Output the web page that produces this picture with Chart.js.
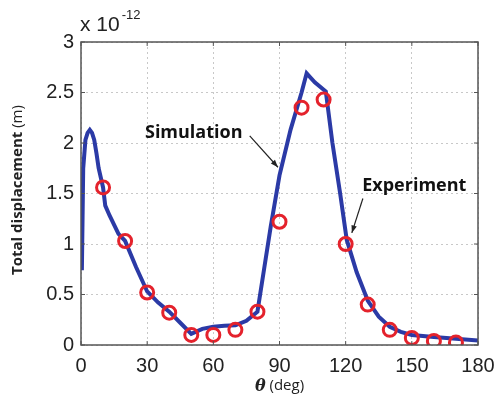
<!DOCTYPE html>
<html>
<head>
<meta charset="utf-8">
<script src="https://cdn.jsdelivr.net/npm/chart.js@4.4.1/dist/chart.umd.min.js"></script>
<style>
  html, body { margin: 0; padding: 0; background: #fff; }
  #wrap { width: 497px; height: 412px; }
</style>
</head>
<body>
<div id="wrap"><canvas id="disp" width="497" height="412"></canvas></div>
<script>
// theta (deg) and total displacement (x 1e-12 m)
const simTheta = [0.4, 1, 2, 3, 4, 5, 6, 7, 8, 10, 11, 13, 17, 20, 25, 30, 35, 40, 45, 50, 55, 60, 65, 70, 75, 80, 83, 86, 90, 95, 100, 102.3, 106, 111, 114, 117.5, 120.5, 125, 130, 135, 140, 145, 150, 160, 170, 180];
const simDisp = [0.74, 1.75, 2.03, 2.1, 2.13, 2.1, 2.03, 1.9, 1.75, 1.56, 1.38, 1.28, 1.1, 1.03, 0.77, 0.53, 0.42, 0.33, 0.22, 0.11, 0.16, 0.18, 0.19, 0.195, 0.24, 0.33, 0.75, 1.17, 1.68, 2.13, 2.5, 2.69, 2.6, 2.51, 2.0, 1.5, 1.04, 0.72, 0.44, 0.28, 0.18, 0.13, 0.1, 0.08, 0.063, 0.045];

const expTheta = [10, 20, 30, 40, 50, 60, 70, 80, 90, 100, 110, 120, 130, 140, 150, 160, 170];
const expDisp = [1.56, 1.03, 0.52, 0.32, 0.1, 0.1, 0.15, 0.33, 1.22, 2.35, 2.43, 1.0, 0.4, 0.15, 0.07, 0.04, 0.025];

const xTicks = [0, 30, 60, 90, 120, 150, 180];
const yTicks = [0, 0.5, 1, 1.5, 2, 2.5, 3];

const FONT = '"Liberation Sans", Arial, sans-serif';
const BOLD = '"Open Sans", "Liberation Sans", sans-serif';

const toPoints = (xs, ys) => xs.map((x, i) => ({ x, y: ys[i] }));

// MATLAB-like box with inward ticks, plus labels and arrows
const decorations = {
  id: 'decorations',
  afterDatasetsDraw(chart) {
    const { ctx, chartArea: a, scales: { x, y } } = chart;
    ctx.save();

    // frame + inner ticks
    ctx.strokeStyle = '#555';
    ctx.lineWidth = 1.5;
    ctx.strokeRect(a.left, a.top, a.right - a.left, a.bottom - a.top);
    ctx.lineWidth = 1;
    xTicks.forEach(v => {
      const px = x.getPixelForValue(v);
      ctx.beginPath();
      ctx.moveTo(px, a.bottom); ctx.lineTo(px, a.bottom - 4);
      ctx.moveTo(px, a.top); ctx.lineTo(px, a.top + 4);
      ctx.stroke();
    });
    yTicks.forEach(v => {
      const py = y.getPixelForValue(v);
      ctx.beginPath();
      ctx.moveTo(a.left, py); ctx.lineTo(a.left + 4, py);
      ctx.moveTo(a.right, py); ctx.lineTo(a.right - 4, py);
      ctx.stroke();
    });

    // annotations
    const arrow = (x0, y0, x1, y1) => {
      const sx = x.getPixelForValue(x0), sy = y.getPixelForValue(y0);
      const ex = x.getPixelForValue(x1), ey = y.getPixelForValue(y1);
      ctx.strokeStyle = '#222';
      ctx.fillStyle = '#222';
      ctx.lineWidth = 1.2;
      ctx.beginPath(); ctx.moveTo(sx, sy); ctx.lineTo(ex, ey); ctx.stroke();
      const ang = Math.atan2(ey - sy, ex - sx);
      ctx.beginPath();
      ctx.moveTo(ex, ey);
      ctx.lineTo(ex - 8 * Math.cos(ang - 0.35), ey - 8 * Math.sin(ang - 0.35));
      ctx.lineTo(ex - 8 * Math.cos(ang + 0.35), ey - 8 * Math.sin(ang + 0.35));
      ctx.closePath(); ctx.fill();
    };
    ctx.fillStyle = '#111';
    ctx.font = 'bold 18px ' + BOLD;
    ctx.textBaseline = 'middle';
    ctx.textAlign = 'left';
    ctx.fillText('Simulation', x.getPixelForValue(29), y.getPixelForValue(2.1));
    ctx.fillText('Experiment', x.getPixelForValue(127.5), y.getPixelForValue(1.58));
    arrow(76.5, 2.07, 89.3, 1.76);
    arrow(127.8, 1.45, 122.8, 1.11);

    // exponent label
    ctx.fillStyle = '#222';
    ctx.font = '21px ' + FONT;
    ctx.textBaseline = 'alphabetic';
    const ex = 'x 10';
    const exW = ctx.measureText(ex).width;
    ctx.fillText(ex, a.left - 1, 31);
    ctx.font = '13px ' + FONT;
    ctx.fillText('-12', a.left + exW + 1, 19);

    // y title
    ctx.save();
    ctx.translate(18, 190);
    ctx.rotate(-Math.PI / 2);
    ctx.textBaseline = 'middle';
    ctx.font = 'bold 15px ' + BOLD;
    const t1 = 'Total displacement ';
    const w1 = ctx.measureText(t1).width;
    ctx.font = '15px ' + BOLD;
    const t2 = '(m)';
    const w2 = ctx.measureText(t2).width;
    let sx = -(w1 + w2) / 2;
    ctx.font = 'bold 15px ' + BOLD;
    ctx.fillText(t1, sx, 0);
    ctx.font = '15px ' + BOLD;
    ctx.fillText(t2, sx + w1, 0);
    ctx.restore();

    // x title
    ctx.textBaseline = 'middle';
    ctx.font = 'italic bold 16px "DejaVu Serif", serif';
    const th = '\u03B8';
    const wt = ctx.measureText(th).width;
    ctx.font = '15px ' + BOLD;
    const dg = ' (deg)';
    const wd = ctx.measureText(dg).width;
    const cx = (a.left + a.right) / 2 - (wt + wd) / 2;
    ctx.font = 'italic bold 16px "DejaVu Serif", serif';
    ctx.fillText(th, cx, 387);
    ctx.font = '15px ' + BOLD;
    ctx.fillText(dg, cx + wt, 386);

    ctx.restore();
  }
};

new Chart(document.getElementById('disp'), {
  type: 'scatter',
  data: {
    datasets: [
      {
        label: 'Simulation',
        data: toPoints(simTheta, simDisp),
        showLine: true,
        borderColor: '#2b3aa6',
        borderWidth: 4,
        pointRadius: 0,
        tension: 0,
        order: 2
      },
      {
        label: 'Experiment',
        data: toPoints(expTheta, expDisp),
        showLine: false,
        pointRadius: 6.5,
        pointBorderWidth: 3,
        pointBorderColor: '#e4222c',
        pointBackgroundColor: 'rgba(255,255,255,0)',
        order: 1
      }
    ]
  },
  options: {
    responsive: false,
    animation: false,
    layout: { padding: { left: 0, right: 19, top: 42, bottom: 0 } },
    plugins: { legend: { display: false }, tooltip: { enabled: false } },
    scales: {
      x: {
        type: 'linear',
        min: 0, max: 180,
        afterBuildTicks: s => { s.ticks = xTicks.map(v => ({ value: v })); },
        afterFit: s => { s.height = 67; s.paddingLeft = 0; s.paddingRight = 0; },
        border: { display: false, dash: [2, 3] },
        grid: { color: '#c8c8c8', lineWidth: 1, tickLength: 0, drawTicks: false },
        ticks: { color: '#222', font: { family: FONT, size: 20 }, padding: 9, maxRotation: 0,
                 callback: v => String(v) }
      },
      y: {
        type: 'linear',
        min: 0, max: 3,
        afterBuildTicks: s => { s.ticks = yTicks.map(v => ({ value: v })); },
        afterFit: s => { s.width = 81; s.paddingTop = 0; s.paddingBottom = 0; },
        border: { display: false, dash: [2, 3] },
        grid: { color: '#c8c8c8', lineWidth: 1, tickLength: 0, drawTicks: false },
        ticks: { color: '#222', font: { family: FONT, size: 20 }, padding: 7,
                 callback: v => String(v) }
      }
    }
  },
  plugins: [decorations]
});
</script>
</body>
</html>
